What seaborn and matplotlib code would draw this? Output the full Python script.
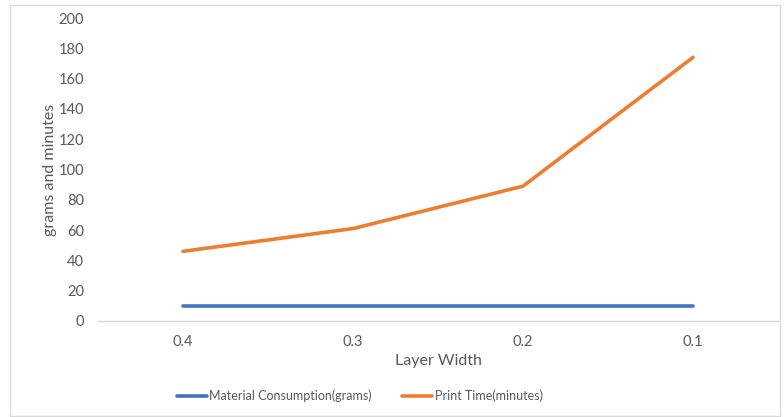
import matplotlib
matplotlib.use("Agg")
import matplotlib.pyplot as plt
from matplotlib.patches import Rectangle
import seaborn as sns
import pandas as pd

layer_width = ["0.4", "0.3", "0.2", "0.1"]
material_grams = [10, 10, 10, 10]
print_minutes = [46, 61, 89, 174]
series_names = ["Material Consumption(grams)", "Print Time(minutes)"]
y_ticks = [0, 20, 40, 60, 80, 100, 120, 140, 160, 180, 200]

df = pd.DataFrame({
    "Layer Width": layer_width * 2,
    "value": material_grams + print_minutes,
    "series": [series_names[0]] * 4 + [series_names[1]] * 4,
})

sns.set_theme(style="white")
plt.rcParams["font.family"] = ["Lato", "DejaVu Sans"]

fig = plt.figure(figsize=(7.84, 4.17), dpi=100)
ax = fig.add_axes([98 / 784, (417 - 321) / 417, (778 - 98) / 784, (321 - 18) / 417])

palette = {series_names[0]: "#4472C4", series_names[1]: "#ED7D31"}
sns.lineplot(data=df, x="Layer Width", y="value", hue="series", palette=palette,
             linewidth=2.6, ax=ax, sort=False)

ax.set_xlim(-0.5, 3.5)
ax.set_ylim(0, 200)
ax.set_yticks(y_ticks)
for s in ["top", "right", "left"]:
    ax.spines[s].set_visible(False)
ax.spines["bottom"].set_color("#d9d9d9")
ax.spines["bottom"].set_linewidth(1)
ax.tick_params(axis="x", length=0, labelsize=10.5, colors="#595959", pad=10)
ax.tick_params(axis="y", length=0, labelsize=10.5, colors="#595959", pad=10)
ax.set_xlabel("Layer Width", fontsize=11.5, color="#595959", labelpad=4)
ax.set_ylabel("grams and minutes", fontsize=11.5, color="#595959", labelpad=1)

leg = ax.legend(loc="upper center", bbox_to_anchor=(0.385, -0.19), ncol=2,
                frameon=False, fontsize=9, handlelength=2.4, columnspacing=2.4,
                handletextpad=0.2)
for t in leg.get_texts():
    t.set_color("#595959")

fig.patches.append(Rectangle((10 / 784, 1 / 417), 770 / 784, 411 / 417,
                             transform=fig.transFigure, fill=False,
                             edgecolor="#d9d9d9", linewidth=1))

fig.savefig("out.png", dpi=100)
